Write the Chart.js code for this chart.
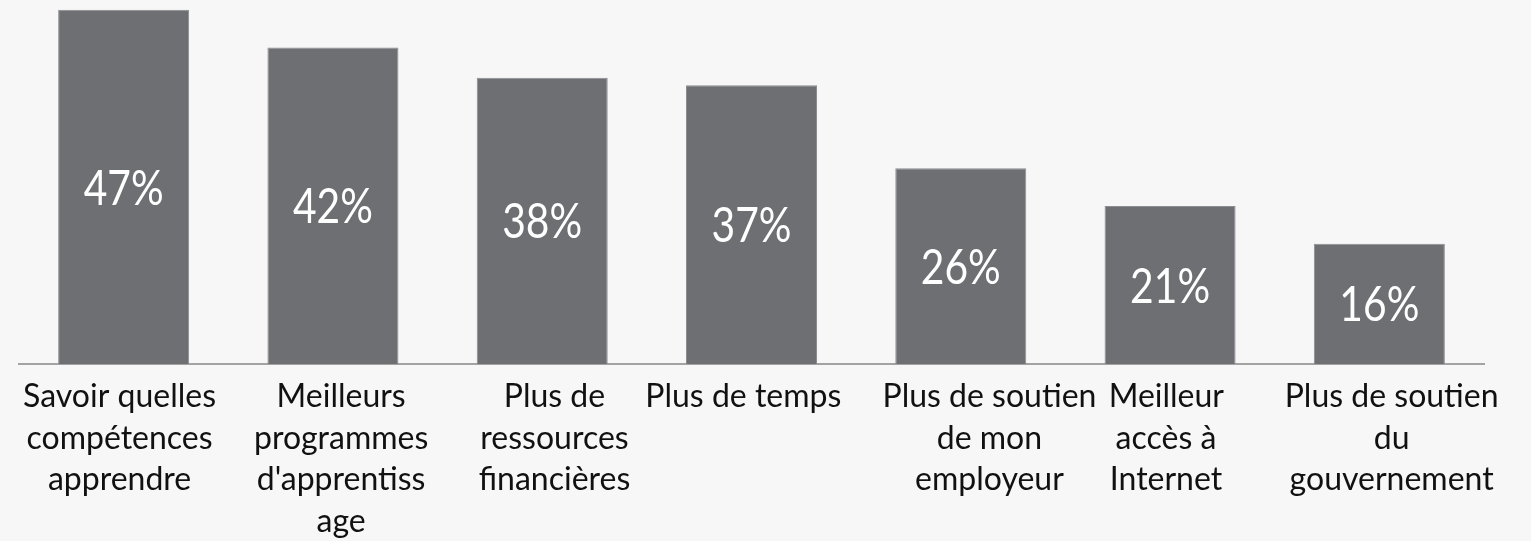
<!DOCTYPE html>
<html>
<head>
<meta charset="utf-8">
<script src="https://cdn.jsdelivr.net/npm/chart.js@4.4.1/dist/chart.umd.min.js"></script>
<style>
  html, body { margin: 0; padding: 0; background: #f7f7f7; }
  #wrap { width: 1531px; height: 541px; position: relative; }
</style>
</head>
<body>
<div id="wrap"><canvas id="chart"></canvas></div>
<script>
const categories = [
    ["Savoir quelles", "compétences", "apprendre"],
    ["Meilleurs", "programmes", "d'apprentiss", "age"],
    ["Plus de", "ressources", "financières"],
    ["Plus de temps"],
    ["Plus de soutien", "de mon", "employeur"],
    ["Meilleur", "accès à", "Internet"],
    ["Plus de soutien", "du", "gouvernement"]
];
const values = [47, 42, 38, 37, 26, 21, 16];
const valueLabels = ["47%", "42%", "38%", "37%", "26%", "21%", "16%"];

// the text boxes in the original are not quite centred under the bars
const labelNudge = [-5, 9, 14, -10, 28, -3, 11];
const SPACE_W = 8.2;

function nudge(lines, px) {
    const n = Math.round(Math.abs(px) * 2 / SPACE_W);
    const pad = "\u00a0".repeat(n);
    return lines.map(l => px > 0 ? pad + l : l + pad);
}

// writes the percentage in the middle of each bar (squeezed a bit, the original font is narrow)
const barLabels = {
    id: "barLabels",
    afterDatasetsDraw(chart) {
        const ctx = chart.ctx;
        const meta = chart.getDatasetMeta(0);
        meta.data.forEach((bar, i) => {
            const mid = (bar.y + bar.base) / 2;
            ctx.save();
            ctx.translate(bar.x, mid + 2);
            ctx.scale(0.85, 1);
            ctx.fillStyle = "#ffffff";
            ctx.font = "48px Lato, 'Liberation Sans', sans-serif";
            ctx.textAlign = "center";
            ctx.textBaseline = "middle";
            ctx.fillText(valueLabels[i], 0, 0);
            ctx.restore();
        });
    }
};

new Chart(document.getElementById("chart"), {
    type: "bar",
    data: {
        labels: categories,
        datasets: [{
            data: values,
            backgroundColor: "#6e6f73",
            borderColor: "#8c8d90",
            borderWidth: 1,
            categoryPercentage: 1,
            barPercentage: 0.626
        }]
    },
    options: {
        responsive: true,
        maintainAspectRatio: false,
        animation: false,
        layout: {
            padding: { left: 19, right: 47, top: 0, bottom: -13 }
        },
        plugins: {
            legend: { display: false },
            tooltip: { enabled: false }
        },
        scales: {
            x: {
                grid: { display: false, drawTicks: false },
                border: { display: true, color: "#a3a3a3", width: 2 },
                ticks: {
                    autoSkip: false,
                    maxRotation: 0,
                    minRotation: 0,
                    padding: 11,
                    color: "#111111",
                    font: { family: "Lato, 'Open Sans', sans-serif", size: 32, lineHeight: 1.31 },
                    callback: (value, index) => nudge(categories[index], labelNudge[index])
                }
            },
            y: {
                display: false,
                min: 0,
                max: 48.3
            }
        }
    },
    plugins: [barLabels]
});
</script>
</body>
</html>
